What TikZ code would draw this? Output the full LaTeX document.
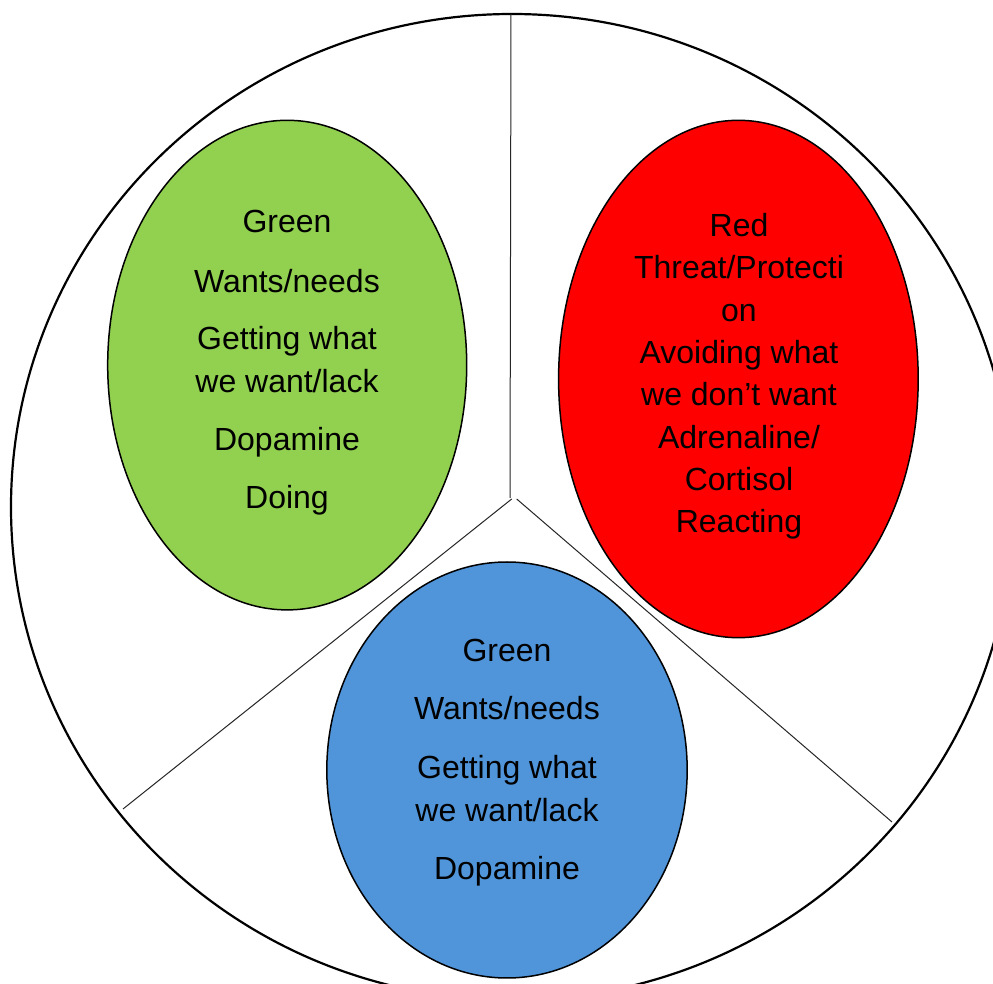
\documentclass[tikz,border=0pt]{standalone}
\usepackage{fontspec}
\setmainfont{Liberation Sans}
\usetikzlibrary{shapes.geometric}
\definecolor{cgreen}{HTML}{92D050}
\definecolor{cred}{HTML}{FF0000}
\definecolor{cblue}{HTML}{5095D9}
\tikzset{
  blob/.style={ellipse, draw=black, line width=0.75pt, inner sep=0pt},
  lbl/.style={anchor=north, inner sep=0pt, align=center, font=\fontsize{16}{21.5}\selectfont},
  spoke/.style={draw=black!85, line width=0.5pt}
}
\begin{document}
\begin{tikzpicture}[x=0.5pt,y=-0.5pt]
\useasboundingbox (0,0) rectangle (993,984);
\clip (0,0) rectangle (993,984);
\fill[white] (0,0) rectangle (993,984);
% outer circle
\draw[line width=1.1pt] (512,507) ellipse [x radius=250.5pt, y radius=246.5pt];
% spokes
\coordinate (top) at (511,14);
\coordinate (hubv) at (510,498);
\coordinate (hubl) at (511.7,499);
\coordinate (hubr) at (516.7,499);
\coordinate (endl) at (123,809);
\coordinate (endr) at (892,822);
\draw[spoke] (top) -- (hubv);
\draw[spoke] (hubl) -- (endl);
\draw[spoke] (hubr) -- (endr);
% ellipses
\node[blob, fill=cgreen, minimum width=179.5pt, minimum height=244.8pt] (g) at (287.2,365.1) {};
\node[blob, fill=cred, minimum width=179.8pt, minimum height=258.7pt] (r) at (738.4,379) {};
\node[blob, fill=cblue, minimum width=180.2pt, minimum height=208pt] (b) at (507,770) {};
% texts
\node[lbl] (gt) at (287,210) {Green\\[8.5pt] Wants/needs\\[7pt] Getting what\\ we want/lack\\[7.5pt] Dopamine\\[7.5pt] Doing};
\node[lbl, font=\fontsize{16}{21.15}\selectfont] (rt) at (739,213) {Red\\ Threat/Protecti\\ on\\ Avoiding what\\ we don’t want\\ Adrenaline/\\ Cortisol\\ Reacting};
\node[lbl] (bt) at (507,639) {Green\\[7.5pt] Wants/needs\\[8pt] Getting what\\ we want/lack\\[7.5pt] Dopamine};
\end{tikzpicture}
\end{document}
